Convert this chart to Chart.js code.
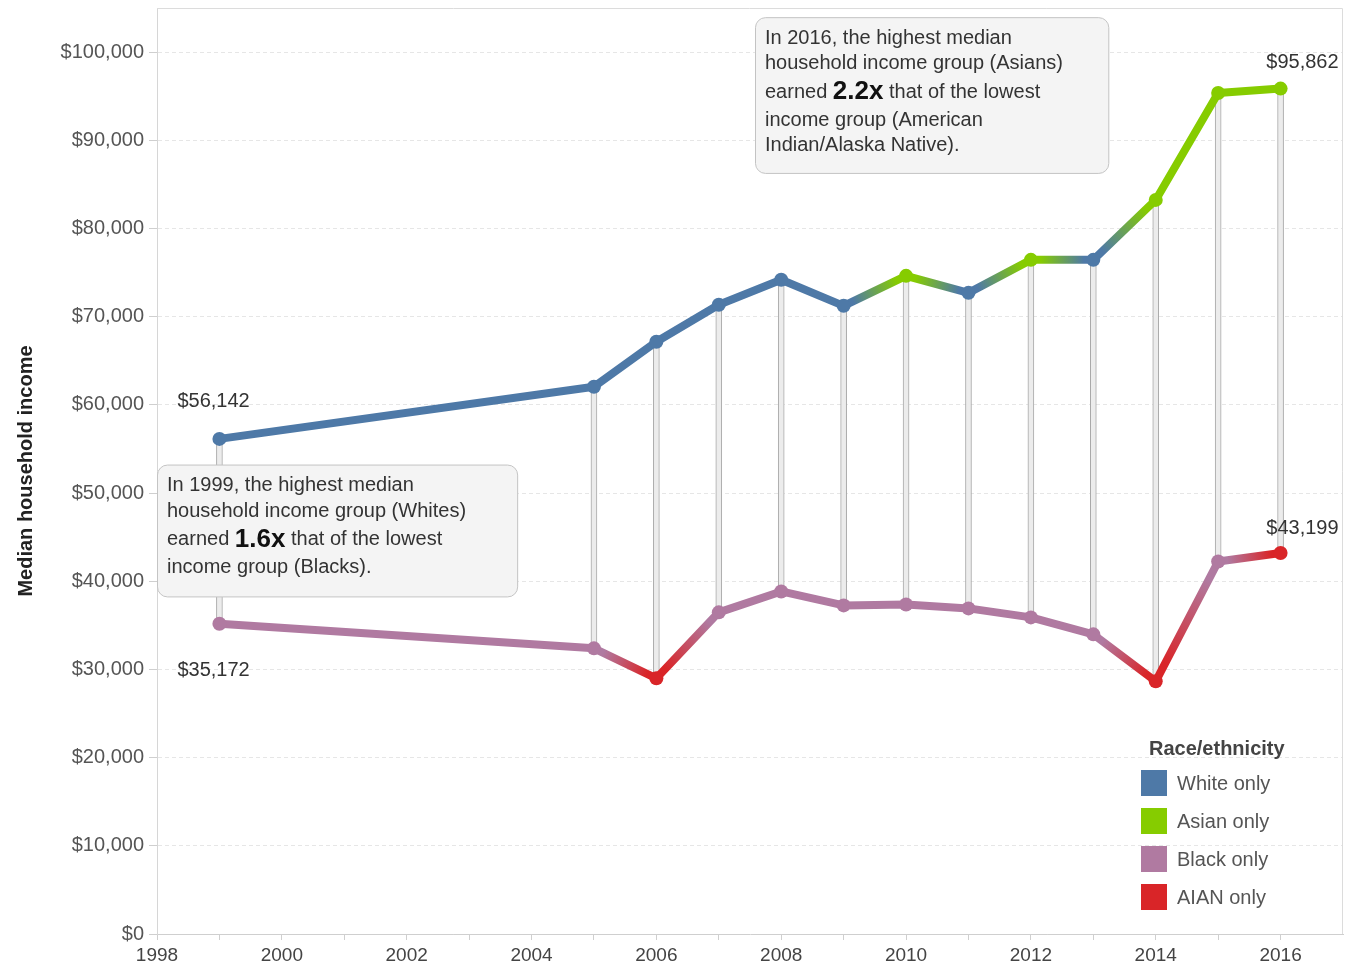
<!DOCTYPE html>
<html>
<head>
<meta charset="utf-8">
<script src="https://cdn.jsdelivr.net/npm/chart.js@4"></script>
<style>
  html, body { margin: 0; padding: 0; background: #fff; }
  #wrap { width: 1350px; height: 969px; }
</style>
</head>
<body>
<div id="wrap"><canvas id="incomeChart" width="1350" height="969"></canvas></div>
<script>
// years with data (2000-2004 not in the source)
var years = [1999, 2005, 2006, 2007, 2008, 2009, 2010, 2011, 2012, 2013, 2014, 2015, 2016];
var highIncome = [56142, 62060, 67160, 71350, 74180, 71230, 74630, 72700, 76440, 76440, 83240, 95360, 95862];
var highGroup = ['White only', 'White only', 'White only', 'White only', 'White only', 'White only', 'Asian only',
                 'White only', 'Asian only', 'White only', 'Asian only', 'Asian only', 'Asian only'];
var lowIncome = [35172, 32390, 28990, 36470, 38840, 37260, 37370, 36920, 35900, 33980, 28650, 42240, 43199];
var lowGroup = ['Black only', 'Black only', 'AIAN only', 'Black only', 'Black only', 'Black only', 'Black only',
                'Black only', 'Black only', 'Black only', 'AIAN only', 'Black only', 'AIAN only'];
var groups = ['White only', 'Asian only', 'Black only', 'AIAN only'];
var groupColors = ['#4e79a7', '#86cc00', '#b07aa1', '#d92528'];
var yTicks = [0, 10000, 20000, 30000, 40000, 50000, 60000, 70000, 80000, 90000, 100000];
var xLabelYears = [1998, 2000, 2002, 2004, 2006, 2008, 2010, 2012, 2014, 2016];

var FONT = '"Liberation Sans", Arial, sans-serif';
var canvas = document.getElementById('incomeChart');
var c2d = canvas.getContext('2d');

function colorOf(g) { return groupColors[groups.indexOf(g)]; }
function money(v) { return '$' + v.toLocaleString('en-US'); }

function segColor(groupList) {
  return function (ctx) {
    var a = colorOf(groupList[ctx.p0DataIndex]);
    var b = colorOf(groupList[ctx.p1DataIndex]);
    if (a === b) return a;
    var g = c2d.createLinearGradient(ctx.p0.x, ctx.p0.y, ctx.p1.x, ctx.p1.y);
    g.addColorStop(0.15, a);
    g.addColorStop(0.85, b);
    return g;
  };
}

var notes = [
  { x0: 1998.0, x1: 2003.77, yTop: 53230, yBot: 38280,
    lines: [['In 1999, the highest median'], ['household income group (Whites)'],
            ['earned ', '1.6x', ' that of the lowest'], ['income group (Blacks).']] },
  { x0: 2007.58, x1: 2013.24, yTop: 103960, yBot: 86300,
    lines: [['In 2016, the highest median'], ['household income group (Asians)'],
            ['earned ', '2.2x', ' that of the lowest'], ['income group (American'], ['Indian/Alaska Native).']] }
];

function roundRect(ctx, x, y, w, h, r) {
  ctx.beginPath();
  ctx.moveTo(x + r, y);
  ctx.lineTo(x + w - r, y);
  ctx.arcTo(x + w, y, x + w, y + r, r);
  ctx.lineTo(x + w, y + h - r);
  ctx.arcTo(x + w, y + h, x + w - r, y + h, r);
  ctx.lineTo(x + r, y + h);
  ctx.arcTo(x, y + h, x, y + h - r, r);
  ctx.lineTo(x, y + r);
  ctx.arcTo(x, y, x + r, y, r);
  ctx.closePath();
}

var extras = {
  id: 'extras',
  beforeDatasetsDraw: function (chart) {
    var ctx = chart.ctx, a = chart.chartArea;
    ctx.save();
    ctx.strokeStyle = '#dcdcdc';
    ctx.lineWidth = 1;
    ctx.beginPath();
    ctx.moveTo(a.left, a.top + 0.5);
    ctx.lineTo(a.right - 0.5, a.top + 0.5);
    ctx.lineTo(a.right - 0.5, a.bottom);
    ctx.stroke();
    ctx.restore();
  },
  afterDatasetsDraw: function (chart) {
    var ctx = chart.ctx, a = chart.chartArea;
    var xs = chart.scales.x, ys = chart.scales.y;
    ctx.save();

    // annotation boxes
    notes.forEach(function (n) {
      var left = xs.getPixelForValue(n.x0), right = xs.getPixelForValue(n.x1);
      var top = ys.getPixelForValue(n.yTop), bot = ys.getPixelForValue(n.yBot);
      roundRect(ctx, left + 0.5, top + 0.5, right - left, bot - top, 10);
      ctx.fillStyle = '#f4f4f4';
      ctx.fill();
      ctx.strokeStyle = '#c4c4c4';
      ctx.lineWidth = 1;
      ctx.stroke();
      ctx.textBaseline = 'middle';
      ctx.textAlign = 'left';
      var y = top + 21;
      n.lines.forEach(function (parts) {
        var big = parts.length > 1;
        if (big) y += 3;
        var x = left + 10;
        parts.forEach(function (p, i) {
          if (i === 1) { ctx.font = 'bold 26px ' + FONT; ctx.fillStyle = '#111'; }
          else { ctx.font = '20px ' + FONT; ctx.fillStyle = '#333'; }
          ctx.fillText(p, x, y);
          x += ctx.measureText(p).width;
        });
        y += big ? 28 : 25.5;
      });
    });

    // end value labels
    ctx.font = '20px ' + FONT;
    ctx.fillStyle = '#333';
    ctx.textBaseline = 'middle';
    var last = years.length - 1;
    var px0 = xs.getPixelForValue(years[0]);
    var pxN = xs.getPixelForValue(years[last]);
    ctx.textAlign = 'left';
    ctx.fillText(money(highIncome[0]), px0 - 42, ys.getPixelForValue(highIncome[0]) - 37);
    ctx.fillText(money(lowIncome[0]), px0 - 42, ys.getPixelForValue(lowIncome[0]) + 47);
    ctx.textAlign = 'right';
    ctx.fillText(money(highIncome[last]), pxN + 58, ys.getPixelForValue(highIncome[last]) - 26);
    ctx.fillText(money(lowIncome[last]), pxN + 58, ys.getPixelForValue(lowIncome[last]) - 25);

    // legend
    var lx = a.right - 202, ly = a.bottom - 164;
    ctx.textAlign = 'left';
    ctx.font = 'bold 20px ' + FONT;
    ctx.fillStyle = '#444';
    ctx.fillText('Race/ethnicity', lx + 8, ly - 21);
    groups.forEach(function (g, i) {
      var top = ly + i * 38;
      ctx.fillStyle = groupColors[i];
      ctx.fillRect(lx, top, 26, 26);
      ctx.font = '20px ' + FONT;
      ctx.fillStyle = '#555';
      ctx.fillText(g, lx + 36, top + 14);
    });
    ctx.restore();
  }
};

var rangeData = years.map(function (yr, i) { return { x: yr, y: [lowIncome[i], highIncome[i]] }; });
var highData = years.map(function (yr, i) { return { x: yr, y: highIncome[i] }; });
var lowData = years.map(function (yr, i) { return { x: yr, y: lowIncome[i] }; });

new Chart(canvas, {
  type: 'bar',
  data: {
    datasets: [{
      type: 'bar',
      label: 'Range',
      data: rangeData,
      backgroundColor: '#ececec',
      borderColor: '#a8a8a8',
      borderWidth: 1,
      borderSkipped: false,
      barThickness: 6,
      order: 3
    }, {
      type: 'line',
      label: 'Highest',
      data: highData,
      borderWidth: 8,
      borderJoinStyle: 'round',
      borderCapStyle: 'round',
      segment: { borderColor: segColor(highGroup) },
      pointRadius: 7,
      pointBorderWidth: 0,
      pointBackgroundColor: highGroup.map(colorOf),
      order: 1
    }, {
      type: 'line',
      label: 'Lowest',
      data: lowData,
      borderWidth: 8,
      borderJoinStyle: 'round',
      borderCapStyle: 'round',
      segment: { borderColor: segColor(lowGroup) },
      pointRadius: 7,
      pointBorderWidth: 0,
      pointBackgroundColor: lowGroup.map(colorOf),
      order: 1
    }]
  },
  options: {
    responsive: false,
    animation: false,
    layout: { padding: { top: 8, right: 7, left: 0, bottom: 0 } },
    plugins: { legend: { display: false }, tooltip: { enabled: false } },
    scales: {
      x: {
        type: 'linear',
        min: 1998,
        max: 2017,
        offset: false,
        afterBuildTicks: function (s) {
          var t = [];
          for (var yr = 1998; yr <= 2016; yr++) t.push({ value: yr });
          s.ticks = t;
        },
        afterFit: function (s) { s.height = 35; },
        ticks: {
          autoSkip: false,
          maxRotation: 0,
          padding: 4,
          color: '#444',
          font: { family: FONT, size: 19 },
          callback: function (v) { return xLabelYears.indexOf(v) >= 0 ? String(v) : ''; }
        },
        grid: { offset: false, drawOnChartArea: false, drawTicks: true, tickLength: 6, tickColor: '#cfcfcf' },
        border: { display: true, color: '#cfcfcf', width: 1 }
      },
      y: {
        type: 'linear',
        min: 0,
        max: 105000,
        afterBuildTicks: function (s) { s.ticks = yTicks.map(function (v) { return { value: v }; }); },
        afterFit: function (s) { s.width = 157; s.paddingTop = 0; s.paddingBottom = 0; },
        ticks: {
          padding: 5,
          color: '#555',
          font: { family: FONT, size: 20 },
          callback: function (v) { return money(v); }
        },
        grid: {
          color: '#e6e6e6',
          tickLength: 8,
          tickColor: '#cfcfcf',
          tickBorderDash: []
        },
        border: { display: true, color: '#d6d6d6', width: 1, dash: [4, 3] },
        title: {
          display: true,
          text: 'Median household income',
          color: '#222',
          font: { family: FONT, size: 20, weight: 'bold' },
          padding: { top: 14, bottom: 0 }
        }
      }
    }
  },
  plugins: [extras]
});
</script>
</body>
</html>
